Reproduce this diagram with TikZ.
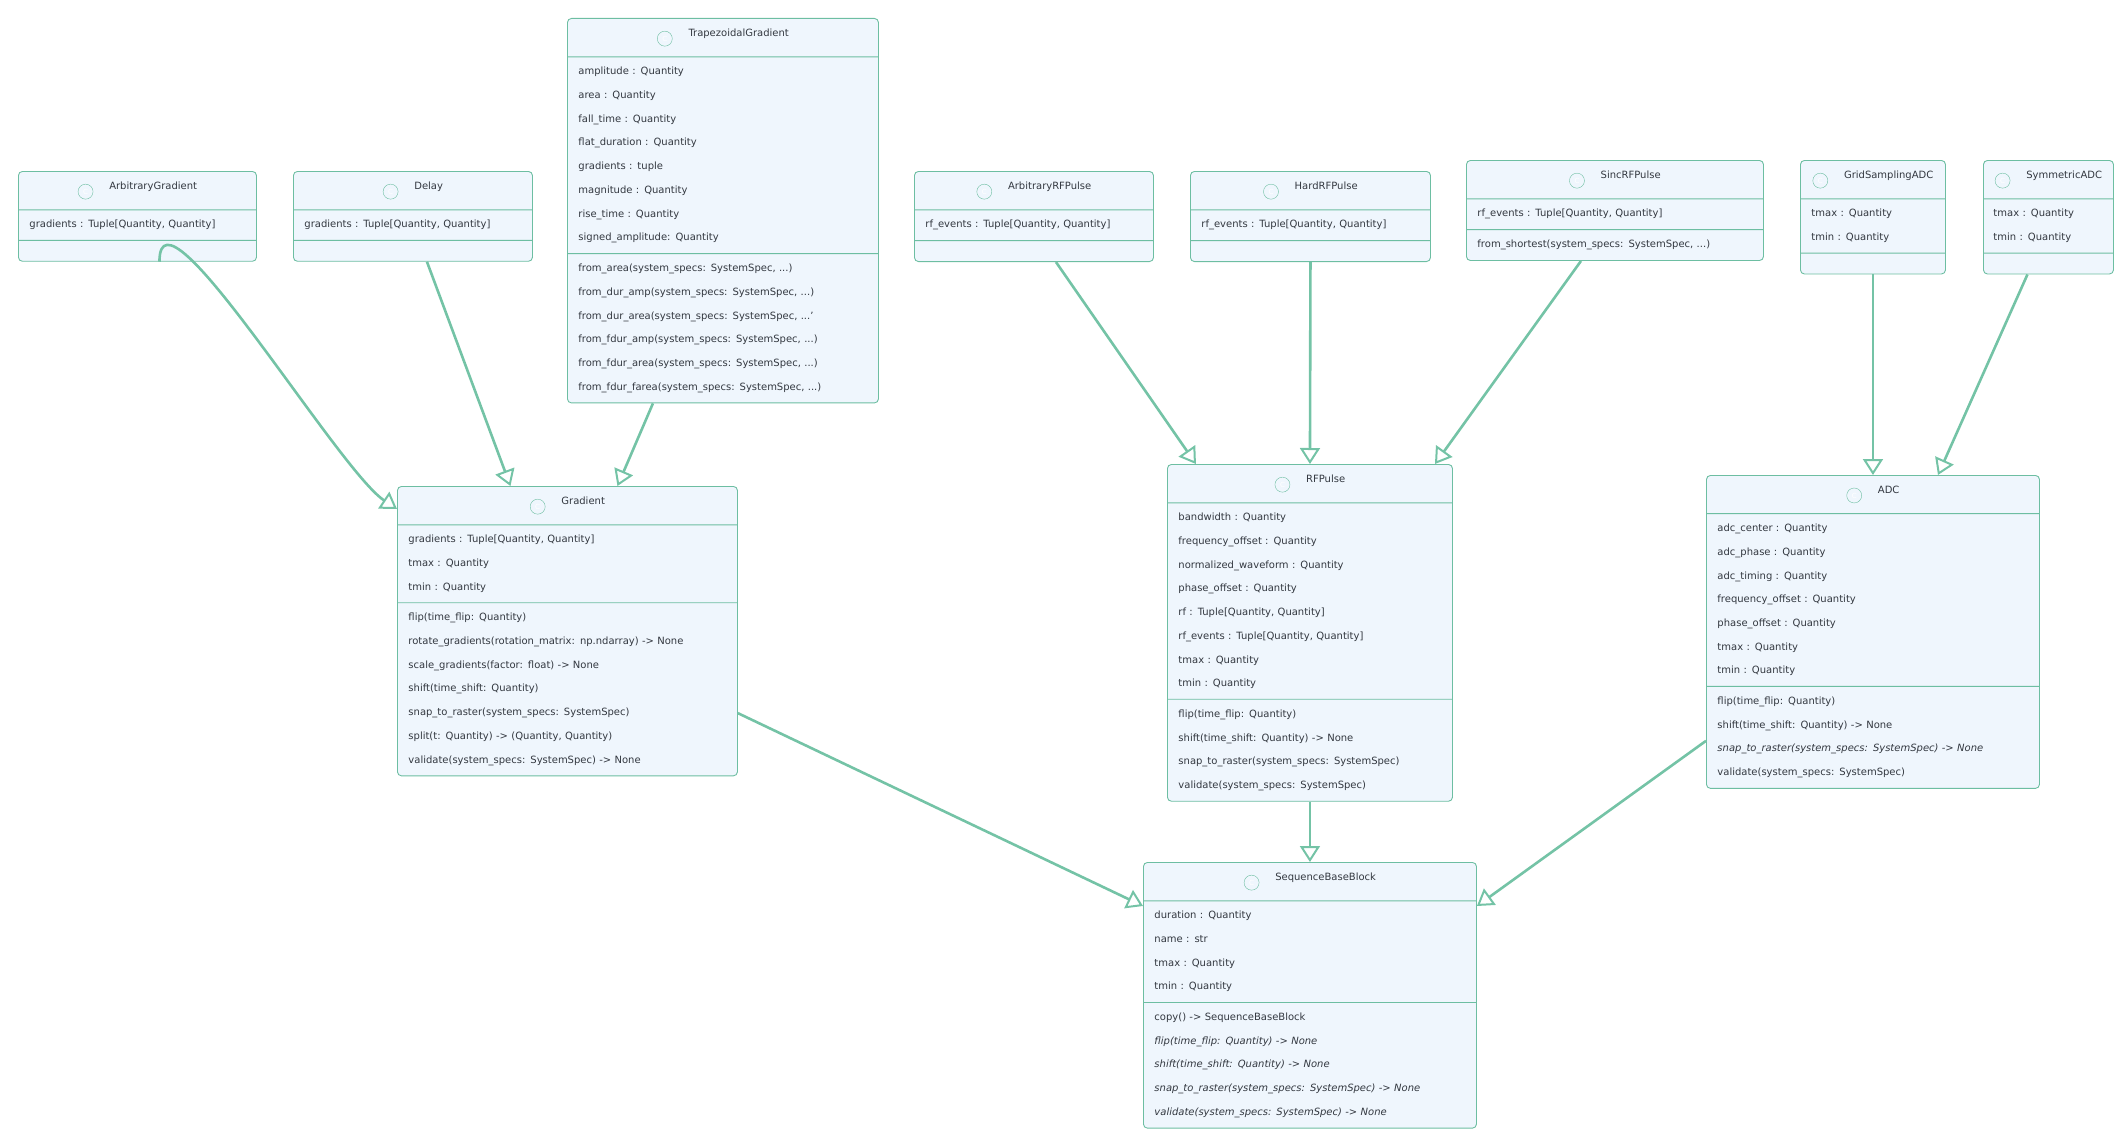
\documentclass[tikz,border=0pt]{standalone}
\usepackage{fontspec}
\setmainfont{DejaVu Sans}
\usepackage{tikz}
\usetikzlibrary{shapes,arrows.meta,positioning}
\definecolor{boxfill}{HTML}{EFF6FD}
\definecolor{boxline}{HTML}{6DBEA2}
\definecolor{linkcol}{HTML}{74C3A6}
\definecolor{txt}{HTML}{333840}
\newcommand{\chead}[1]{\hspace*{\fill}\tikz[baseline=-0.6ex]\node[circle,draw=boxline,fill=boxfill,text=white,inner sep=0pt,minimum size=15pt,font=\fontsize{7}{7}\selectfont]{C};\hspace{16pt}#1\hspace*{\fill}}

\begin{document}
\begin{tikzpicture}[x=1pt,y=-1pt]
\tikzstyle{umlclass}=[rectangle split, rectangle split parts=3, rectangle split ignore empty parts=false, rectangle split empty part height=0pt, draw=boxline, line width=0.9pt, fill=boxfill, rounded corners=4pt, anchor=north west, inner xsep=11pt, inner ysep=10pt, align=left, text=txt, font=\fontsize{10}{23.7}\selectfont]
\tikzstyle{inherit}=[-{Triangle[open,length=16pt,width=20pt,line width=2pt]}, line width=2.6pt, draw=linkcol]
\useasboundingbox (0,0) rectangle (2127,1137);

\node[umlclass, text width=216pt] (ArbGrad) at (18,171) {\chead{ArbitraryGradient}
 \nodepart{two} gradients : Tuple[Quantity, Quantity]
 \nodepart{three}};
\node[umlclass, text width=217pt] (Delay) at (293,171) {\chead{Delay}
 \nodepart{two} gradients : Tuple[Quantity, Quantity]
 \nodepart{three}};
\node[umlclass, text width=289pt] (TrapGrad) at (567,18) {\chead{TrapezoidalGradient}
 \nodepart{two} amplitude : Quantity\\ area : Quantity\\ fall\_time : Quantity\\ flat\_duration : Quantity\\ gradients : tuple\\ magnitude : Quantity\\ rise\_time : Quantity\\ signed\_amplitude: Quantity
 \nodepart{three} from\_area(system\_specs: SystemSpec, ...)\\ from\_dur\_amp(system\_specs: SystemSpec, ...)\\ from\_dur\_area(system\_specs: SystemSpec, ...'\\ from\_fdur\_amp(system\_specs: SystemSpec, ...)\\ from\_fdur\_area(system\_specs: SystemSpec, ...)\\ from\_fdur\_farea(system\_specs: SystemSpec, ...)};
\node[umlclass, text width=217pt] (ArbRF) at (914,171) {\chead{ArbitraryRFPulse}
 \nodepart{two} rf\_events : Tuple[Quantity, Quantity]
 \nodepart{three}};
\node[umlclass, text width=218pt] (HardRF) at (1190,171) {\chead{HardRFPulse}
 \nodepart{two} rf\_events : Tuple[Quantity, Quantity]
 \nodepart{three}};
\node[umlclass, text width=275pt] (SincRF) at (1466,160) {\chead{SincRFPulse}
 \nodepart{two} rf\_events : Tuple[Quantity, Quantity]
 \nodepart{three} from\_shortest(system\_specs: SystemSpec, ...)};
\node[umlclass, text width=123pt] (GridADC) at (1800,160) {\chead{GridSamplingADC}
 \nodepart{two} tmax : Quantity\\ tmin : Quantity
 \nodepart{three}};
\node[umlclass, text width=110pt, inner xsep=10pt] (SymADC) at (1983,160) {\chead{SymmetricADC}
 \nodepart{two} tmax : Quantity\\ tmin : Quantity
 \nodepart{three}};

\node[umlclass, text width=318pt] (Gradient) at (397,486) {\chead{Gradient}
 \nodepart{two} gradients : Tuple[Quantity, Quantity]\\ tmax : Quantity\\ tmin : Quantity
 \nodepart{three} flip(time\_flip: Quantity)\\ rotate\_gradients(rotation\_matrix: np.ndarray) -> None\\ scale\_gradients(factor: float) -> None\\ shift(time\_shift: Quantity)\\ snap\_to\_raster(system\_specs: SystemSpec)\\ split(t: Quantity) -> (Quantity, Quantity)\\ validate(system\_specs: SystemSpec) -> None};
\node[umlclass, text width=263pt] (RFPulse) at (1167,464) {\chead{RFPulse}
 \nodepart{two} bandwidth : Quantity\\ frequency\_offset : Quantity\\ normalized\_waveform : Quantity\\ phase\_offset : Quantity\\ rf : Tuple[Quantity, Quantity]\\ rf\_events : Tuple[Quantity, Quantity]\\ tmax : Quantity\\ tmin : Quantity
 \nodepart{three} flip(time\_flip: Quantity)\\ shift(time\_shift: Quantity) -> None\\ snap\_to\_raster(system\_specs: SystemSpec)\\ validate(system\_specs: SystemSpec)};
\node[umlclass, text width=311pt] (ADC) at (1706,475) {\chead{ADC}
 \nodepart{two} adc\_center : Quantity\\ adc\_phase : Quantity\\ adc\_timing : Quantity\\ frequency\_offset : Quantity\\ phase\_offset : Quantity\\ tmax : Quantity\\ tmin : Quantity
 \nodepart{three} flip(time\_flip: Quantity)\\ shift(time\_shift: Quantity) -> None\\ \textit{snap\_to\_raster(system\_specs: SystemSpec) -> None}\\ validate(system\_specs: SystemSpec)};
\node[umlclass, text width=311pt] (SeqBase) at (1143,862) {\chead{SequenceBaseBlock}
 \nodepart{two} duration : Quantity\\ name : str\\ tmax : Quantity\\ tmin : Quantity
 \nodepart{three} copy() -> SequenceBaseBlock\\ \textit{flip(time\_flip: Quantity) -> None}\\ \textit{shift(time\_shift: Quantity) -> None}\\ \textit{snap\_to\_raster(system\_specs: SystemSpec) -> None}\\ \textit{validate(system\_specs: SystemSpec) -> None}};

% inheritance
\draw[inherit] ([xshift=22pt]ArbGrad.south) .. controls +(0,-90) and +(-60,-40) .. ([yshift=-23pt]Gradient.north west);
\draw[inherit] ([xshift=14pt]Delay.south) -- ([xshift=-57pt]Gradient.north);
\draw[inherit] ([xshift=-70pt]TrapGrad.south) -- ([xshift=50pt]Gradient.north);
\draw[inherit] ([xshift=22pt]ArbRF.south) -- ([xshift=-114pt]RFPulse.north);
\draw[inherit] (HardRF.south) -- (RFPulse.north);
\draw[inherit] ([xshift=-34pt]SincRF.south) -- ([xshift=125pt]RFPulse.north);
\draw[inherit] (GridADC.south) -- (ADC.north);
\draw[inherit] ([xshift=-21pt]SymADC.south) -- ([xshift=65pt]ADC.north);
\draw[inherit] ([yshift=-82pt]Gradient.east) -- ([yshift=-44pt]SeqBase.north west);
\draw[inherit] (RFPulse.south) -- (SeqBase.north);
\draw[inherit] ([yshift=48pt]ADC.south west) -- ([yshift=-44pt]SeqBase.north east);
\end{tikzpicture}
\end{document}
